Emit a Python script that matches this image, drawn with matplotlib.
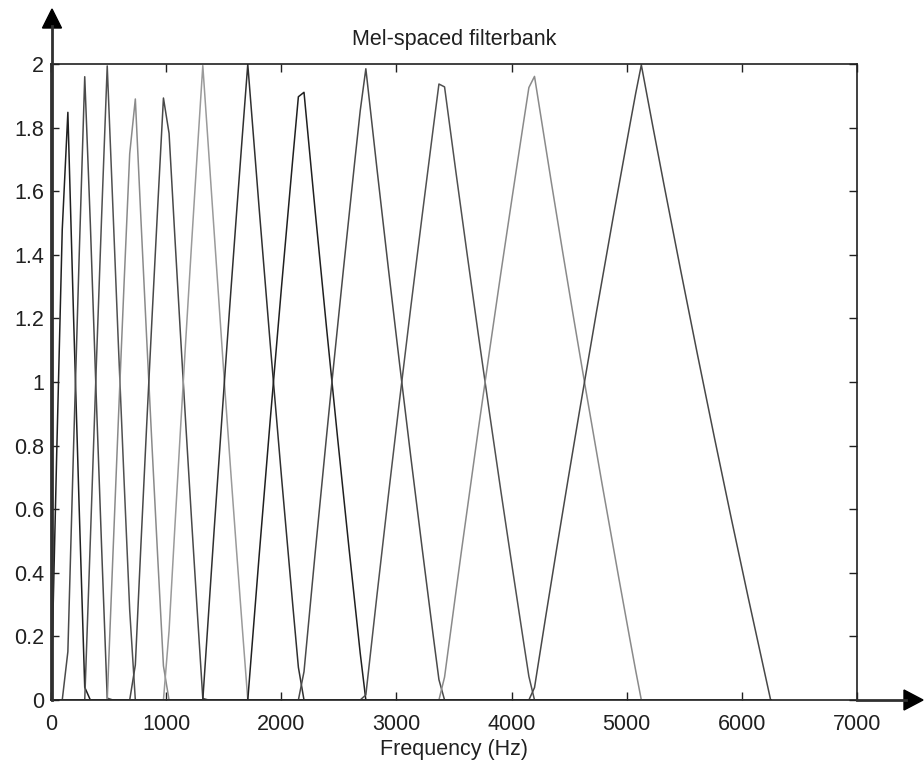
import numpy as np
import matplotlib
matplotlib.use('Agg')
import matplotlib.pyplot as plt
from matplotlib.patches import Polygon
from matplotlib.lines import Line2D

plt.rcParams['font.family'] = ['Liberation Sans', 'DejaVu Sans']

# FFT grid: 129 bins from 0 to 6250 Hz
n_bins = 129
f_max = 6250
freq = np.linspace(0, f_max, n_bins)

# filter values, each list starts at the given bin
f1_start = 0
f1_vals = [0, 0.764, 1.479, 1.848, 1.213, 0.611, 0.040, 0]
f2_start = 2
f2_vals = [0, 0.152, 0.787, 1.389, 1.960, 1.496, 0.977, 0.481, 0.006, 0]
f3_start = 6
f3_vals = [0, 0.504, 1.023, 1.519, 1.994, 1.550, 1.111, 0.689, 0.282, 0]
f4_start = 10
f4_vals = [0, 0.450, 0.889, 1.311, 1.718, 1.890, 1.510, 1.143, 0.787, 0.442, 0.107, 0]
f5_start = 14
f5_vals = [0, 0.110, 0.490, 0.858, 1.213, 1.558, 1.893, 1.782, 1.466, 1.158, 0.859,
           0.567, 0.283, 0.005, 0]
f6_start = 20
f6_vals = [0, 0.218, 0.534, 0.842, 1.141, 1.433, 1.717, 1.995, 1.735, 1.470, 1.212,
           0.959, 0.712, 0.470, 0.233, 0.001, 0]
f7_start = 27
f7_vals = [0, 0.265, 0.530, 0.788, 1.041, 1.288, 1.530, 1.767, 1.999, 1.774, 1.551,
           1.333, 1.118, 0.908, 0.701, 0.499, 0.299, 0.103, 0]
f8_start = 35
f8_vals = [0, 0.226, 0.449, 0.667, 0.882, 1.092, 1.299, 1.501, 1.701, 1.897, 1.911,
           1.722, 1.535, 1.352, 1.172, 0.995, 0.820, 0.648, 0.478, 0.311, 0.147, 0]
f9_start = 44
f9_vals = [0, 0.089, 0.278, 0.465, 0.648, 0.828, 1.006, 1.180, 1.352, 1.522, 1.689,
           1.853, 1.985, 1.825, 1.667, 1.511, 1.358, 1.207, 1.057, 0.910, 0.764,
           0.621, 0.479, 0.339, 0.200, 0.064, 0]
f10_start = 55
f10_vals = [0, 0.016, 0.175, 0.333, 0.489, 0.642, 0.793, 0.943, 1.090, 1.236, 1.379,
            1.521, 1.661, 1.800, 1.937, 1.928, 1.795, 1.663, 1.533, 1.404, 1.276,
            1.150, 1.025, 0.902, 0.780, 0.659, 0.540, 0.422, 0.305, 0.189, 0.074, 0]
f11_start = 69
f11_vals = [0, 0.072, 0.205, 0.337, 0.468, 0.596, 0.724, 0.850, 0.975, 1.098, 1.220,
            1.341, 1.460, 1.578, 1.695, 1.811, 1.926, 1.961, 1.849, 1.737, 1.627,
            1.518, 1.410, 1.303, 1.197, 1.092, 0.988, 0.885, 0.783, 0.681, 0.581,
            0.481, 0.383, 0.285, 0.188, 0.092, 0]
f12_start = 85
f12_vals = [0, 0.039, 0.152, 0.263, 0.373, 0.482, 0.590, 0.697, 0.803, 0.908, 1.012,
            1.115, 1.218, 1.319, 1.419, 1.519, 1.617, 1.715, 1.812, 1.908, 1.997,
            1.902, 1.808, 1.715, 1.623, 1.532, 1.441, 1.351, 1.262, 1.173, 1.085,
            0.998, 0.911, 0.825, 0.740, 0.655, 0.571, 0.488, 0.405, 0.323, 0.242,
            0.161, 0.080, 0]

filters = [(f1_start, f1_vals), (f2_start, f2_vals), (f3_start, f3_vals),
           (f4_start, f4_vals), (f5_start, f5_vals), (f6_start, f6_vals),
           (f7_start, f7_vals), (f8_start, f8_vals), (f9_start, f9_vals),
           (f10_start, f10_vals), (f11_start, f11_vals), (f12_start, f12_vals)]

# old matlab colour order, as it looks when printed in grey
line_greys = ['#202020', '#4a4a4a', '#505050', '#8a8a8a', '#484848', '#9a9a9a', '#303030']

x_ticks = [0, 1000, 2000, 3000, 4000, 5000, 6000, 7000]
y_ticks = [0, 0.2, 0.4, 0.6, 0.8, 1.0, 1.2, 1.4, 1.6, 1.8, 2.0]
y_labels = ['0', '0.2', '0.4', '0.6', '0.8', '1', '1.2', '1.4', '1.6', '1.8', '2']

W, H = 924, 771
fig = plt.figure(figsize=(W / 100, H / 100), dpi=100)
ax = fig.add_axes([51 / W, 1 - 700 / H, 806 / W, 636 / H])

for i, (start, vals) in enumerate(filters):
    row = np.zeros(n_bins)
    row[start:start + len(vals)] = vals
    ax.plot(freq, row, color=line_greys[i % len(line_greys)], lw=1.1)

ax.set_xlim(0, 7000)
ax.set_ylim(0, 2)
ax.set_xticks(x_ticks)
ax.set_xticklabels([str(t) for t in x_ticks])
ax.set_yticks(y_ticks)
ax.set_yticklabels(y_labels)
ax.tick_params(direction='in', length=6, width=1, labelsize=15.5, colors='#202020',
               top=True, right=True, pad=5)
ax.tick_params(axis='x', pad=10)
for s in ax.spines.values():
    s.set_linewidth(1.2)
    s.set_color('#202020')

ax.set_title('Mel-spaced filterbank', fontsize=15.5, color='#202020', pad=14)
ax.set_xlabel('Frequency (Hz)', fontsize=15.5, color='#202020', labelpad=3)


# axis arrows drawn in figure pixels
def px(x, y):
    return (x / W, 1 - y / H)


tf = fig.transFigure
fig.add_artist(Line2D(*zip(px(52, 700), px(52, 26)), transform=tf, color='#303030', lw=2))
fig.add_artist(Polygon([px(42.5, 28), px(61.5, 28), px(52, 9)], closed=True,
                       transform=tf, color='black'))
fig.add_artist(Line2D(*zip(px(857, 700), px(906, 700)), transform=tf, color='#303030', lw=2))
fig.add_artist(Polygon([px(904, 690), px(904, 710), px(923, 700)], closed=True,
                       transform=tf, color='black'))

fig.savefig('out.png', dpi=100, facecolor='white')
